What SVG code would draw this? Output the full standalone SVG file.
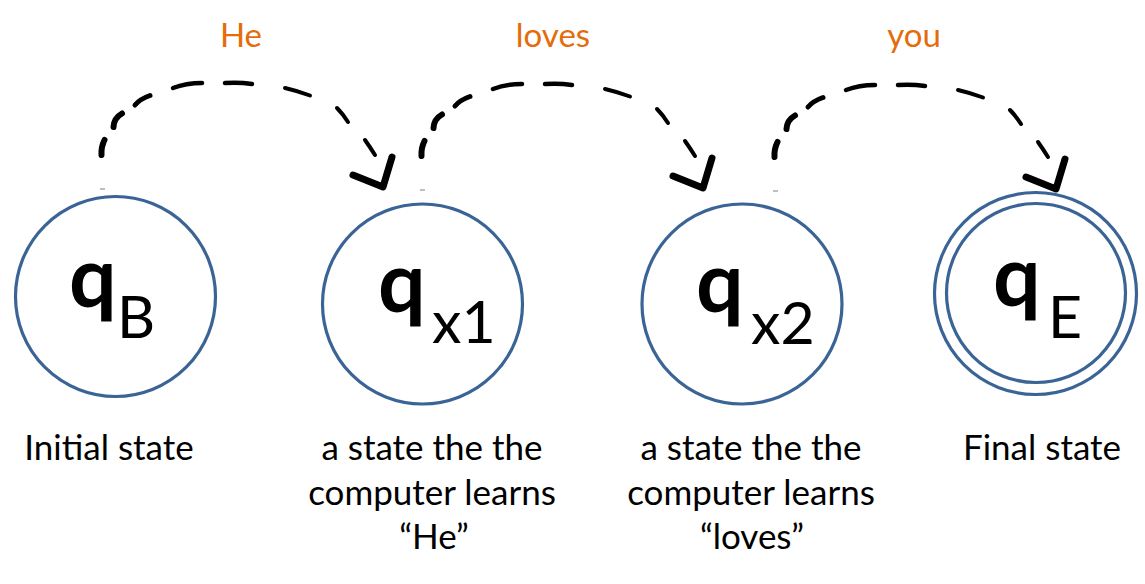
<svg xmlns="http://www.w3.org/2000/svg" width="1145" height="584" viewBox="0 0 1145 584">
<style>
  .state { fill: #ffffff; stroke: #3B6496; stroke-width: 3.2; }
  .q { font-family: Lato, "Liberation Sans", sans-serif; font-weight: bold; font-size: 84px; fill: #000; }
  .sub { font-family: Lato, "Liberation Sans", sans-serif; font-size: 59px; fill: #000; }
  .lbl { font-family: Lato, "Liberation Sans", sans-serif; font-size: 35px; fill: #000; text-anchor: middle; }
  .word { font-family: Lato, "Liberation Sans", sans-serif; font-size: 33px; fill: #E46C0A; text-anchor: middle; }
  .dash { fill: none; stroke: #000; stroke-linecap: round; }
  .head { fill: none; stroke: #000; stroke-width: 7; stroke-linecap: round; stroke-linejoin: round; }
  .tick { stroke: #aaaaaa; stroke-width: 1.5; }
</style>
<rect width="1145" height="584" fill="#ffffff"/>

<g id="connectors">
  <g id="c1" transform="translate(0,0)">
    <line class="tick" x1="100" y1="189" x2="105" y2="189"/>
    <path class="dash" stroke-width="6" d="M101.5 155 Q101 147 104.5 140"/>
    <path class="dash" stroke-width="6" d="M113.5 127 Q114 118 122 113.5"/>
    <path class="dash" stroke-width="5" d="M135 105 Q140 99 150 95.5"/>
    <path class="dash" stroke-width="4.5" d="M173 88 Q186 83 202 83"/>
    <path class="dash" stroke-width="4.5" d="M225 83 Q239 82 252 84"/>
    <path class="dash" stroke-width="4" d="M285 88 Q298 91 310 95.5"/>
    <path class="dash" stroke-width="4" d="M337 108 Q343 114 348 122"/>
    <path class="dash" stroke-width="4" d="M365 140 Q370 147 375 155"/>
    <path class="head" d="M353 175 L383 187 L392 157"/>
  </g>
  <g id="c2" transform="translate(320,1)">
    <line class="tick" x1="100" y1="189" x2="105" y2="189"/>
    <path class="dash" stroke-width="6" d="M101.5 155 Q101 147 104.5 140"/>
    <path class="dash" stroke-width="6" d="M113.5 127 Q114 118 122 113.5"/>
    <path class="dash" stroke-width="5" d="M135 105 Q140 99 150 95.5"/>
    <path class="dash" stroke-width="4.5" d="M173 88 Q186 83 202 83"/>
    <path class="dash" stroke-width="4.5" d="M225 83 Q239 82 252 84"/>
    <path class="dash" stroke-width="4" d="M285 88 Q298 91 310 95.5"/>
    <path class="dash" stroke-width="4" d="M337 108 Q343 114 348 122"/>
    <path class="dash" stroke-width="4" d="M365 140 Q370 147 375 155"/>
    <path class="head" d="M353 175 L383 187 L392 157"/>
  </g>
  <g id="c3" transform="translate(673,2)">
    <line class="tick" x1="100" y1="189" x2="105" y2="189"/>
    <path class="dash" stroke-width="6" d="M101.5 155 Q101 147 104.5 140"/>
    <path class="dash" stroke-width="6" d="M113.5 127 Q114 118 122 113.5"/>
    <path class="dash" stroke-width="5" d="M135 105 Q140 99 150 95.5"/>
    <path class="dash" stroke-width="4.5" d="M173 88 Q186 83 202 83"/>
    <path class="dash" stroke-width="4.5" d="M225 83 Q239 82 252 84"/>
    <path class="dash" stroke-width="4" d="M285 88 Q298 91 310 95.5"/>
    <path class="dash" stroke-width="4" d="M337 108 Q343 114 348 122"/>
    <path class="dash" stroke-width="4" d="M365 140 Q370 147 375 155"/>
    <path class="head" d="M353 175 L383 187 L392 157"/>
  </g>
  <text class="word" x="241" y="47">He</text>
  <text class="word" x="553" y="47">loves</text>
  <text class="word" x="914" y="47">you</text>
</g>

<g id="qB">
  <circle class="state" cx="115.5" cy="296.5" r="100"/>
  <text x="69" y="307"><tspan class="q">q</tspan></text>
  <text x="117" y="338"><tspan class="sub">B</tspan></text>
  <text class="lbl" x="109" y="460">Initial state</text>
</g>

<g id="qx1">
  <circle class="state" cx="422.5" cy="304" r="100"/>
  <text x="378" y="312"><tspan class="q">q</tspan></text>
  <text x="432" y="343"><tspan class="sub">x1</tspan></text>
  <text class="lbl" x="432" y="460">a state the the</text>
  <text class="lbl" x="432" y="505">computer learns</text>
  <text class="lbl" x="434" y="549">“He”</text>
</g>

<g id="qx2">
  <circle class="state" cx="742" cy="304" r="100"/>
  <text x="696" y="312"><tspan class="q">q</tspan></text>
  <text x="751" y="344"><tspan class="sub">x2</tspan></text>
  <text class="lbl" x="751" y="460">a state the the</text>
  <text class="lbl" x="751" y="505">computer learns</text>
  <text class="lbl" x="752" y="549">“loves”</text>
</g>

<g id="qE">
  <circle class="state" cx="1035.5" cy="293.5" r="101"/>
  <circle class="state" cx="1036" cy="293" r="89.5"/>
  <text x="993" y="306"><tspan class="q">q</tspan></text>
  <text x="1048" y="338"><tspan class="sub">E</tspan></text>
  <text class="lbl" x="1042" y="460">Final state</text>
</g>
</svg>
